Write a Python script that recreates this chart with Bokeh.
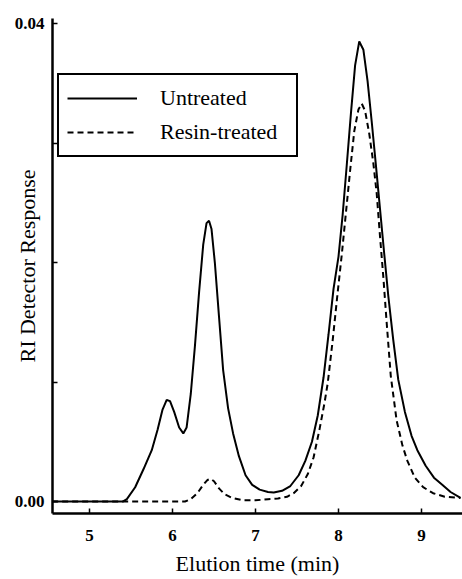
from bokeh.plotting import figure
from bokeh.models import FixedTicker, Range1d, Legend, LegendItem
from bokeh.embed import file_html
from bokeh.resources import INLINE

# ---- data ----
untreated_x = [4.55, 5.00, 5.40, 5.45, 5.55, 5.65, 5.75, 5.82, 5.88, 5.93, 5.97, 6.02, 6.08, 6.13,
               6.17, 6.22, 6.27, 6.32, 6.37, 6.41, 6.44, 6.47, 6.51, 6.56, 6.61, 6.67, 6.73, 6.80,
               6.88, 6.96, 7.05, 7.15, 7.22, 7.32, 7.42, 7.52, 7.60, 7.68, 7.75, 7.82, 7.88, 7.94,
               8.00, 8.05, 8.10, 8.15, 8.20, 8.25, 8.30, 8.35, 8.40, 8.45, 8.50, 8.55, 8.60, 8.66,
               8.72, 8.80, 8.88, 8.95, 9.05, 9.15, 9.25, 9.35, 9.47]
untreated_y = [0.0, 0.0, 0.0, 0.0002, 0.0012, 0.0027, 0.0043, 0.0060, 0.0077, 0.0085, 0.0084, 0.0075, 0.0062, 0.0057,
               0.0062, 0.0090, 0.0130, 0.0175, 0.0215, 0.0233, 0.0235, 0.0228, 0.0200, 0.0155, 0.0110, 0.0078, 0.0057, 0.0038,
               0.0022, 0.0014, 0.0010, 0.0008, 0.00075, 0.0009, 0.0013, 0.0022, 0.0034, 0.0050, 0.0072, 0.0104, 0.0140, 0.0178,
               0.0205, 0.0240, 0.0282, 0.0325, 0.0365, 0.0385, 0.0378, 0.0352, 0.0318, 0.0282, 0.0245, 0.0208, 0.0172, 0.0135,
               0.0102, 0.0075, 0.0055, 0.0043, 0.0030, 0.0020, 0.0014, 0.0008, 0.0003]

resin_x = [4.55, 6.15, 6.22, 6.30, 6.37, 6.42, 6.46, 6.50, 6.56, 6.63, 6.72, 6.85, 7.00, 7.15,
           7.27, 7.38, 7.46, 7.55, 7.63, 7.70, 7.77, 7.83, 7.87, 7.93, 7.99, 8.04, 8.09, 8.14,
           8.19, 8.24, 8.28, 8.32, 8.37, 8.42, 8.46, 8.50, 8.54, 8.58, 8.63, 8.70, 8.77, 8.83,
           8.92, 9.02, 9.14, 9.28, 9.47]
resin_y = [0.0, 0.0, 0.0002, 0.0007, 0.0014, 0.0018, 0.0019, 0.0017, 0.0011, 0.0006, 0.0003, 0.0001, 0.0001, 0.0002,
           0.00025, 0.0004, 0.0007, 0.0013, 0.0023, 0.0037, 0.0060, 0.0082, 0.0099, 0.0135, 0.0175, 0.0207, 0.0242, 0.0277,
           0.0310, 0.0328, 0.0333, 0.0327, 0.0308, 0.0283, 0.0258, 0.0222, 0.0188, 0.0150, 0.0105, 0.0068, 0.0047, 0.0034,
           0.0020, 0.0012, 0.0007, 0.0004, 0.0003]

x_ticks = [5, 6, 7, 8, 9]
y_major_ticks = [0.0, 0.04]
y_minor_ticks = [0.01, 0.02, 0.03]
y_tick_labels = {0.0: "0.00", 0.04: "0.04"}

SERIF = "Liberation Serif"

p = figure(width=462, height=579, output_backend="svg", toolbar_location=None,
           x_range=Range1d(4.554, 9.494), y_range=Range1d(-0.001, 0.04042),
           min_border_left=52, min_border_right=0, min_border_top=18, min_border_bottom=66)
p.outline_line_color = None
p.grid.visible = False
p.background_fill_color = "white"
p.border_fill_color = "white"

r1 = p.line(untreated_x, untreated_y, line_color="black", line_width=2)
r2 = p.line(resin_x, resin_y, line_color="black", line_width=2, line_dash="6 4")

# axes
for ax in (p.xaxis[0], p.yaxis[0]):
    ax.axis_line_width = 2.5
    ax.axis_line_color = "black"
    ax.major_tick_in = 5
    ax.major_tick_out = 0
    ax.minor_tick_in = 0
    ax.minor_tick_out = 0
    ax.major_tick_line_width = 1.5
    ax.major_label_text_font = SERIF
    ax.major_label_text_font_style = "bold"
    ax.major_label_text_color = "black"
    ax.major_label_text_font_size = "17px"

p.xaxis.ticker = FixedTicker(ticks=x_ticks)
p.xaxis.major_label_standoff = 16
p.xaxis.axis_label = "Elution time (min)"
p.xaxis.axis_label_text_font = SERIF
p.xaxis.axis_label_text_font_style = "normal"
p.xaxis.axis_label_text_font_size = "22px"
p.xaxis.axis_label_text_color = "black"
p.xaxis.axis_label_standoff = 7

p.yaxis.ticker = FixedTicker(ticks=y_major_ticks + y_minor_ticks)
p.yaxis.major_label_overrides = {0.01: "", 0.02: "", 0.03: "", **y_tick_labels}
p.yaxis.major_label_standoff = 8
p.yaxis.axis_label = "RI Detector Response"
p.yaxis.axis_label_text_font = SERIF
p.yaxis.axis_label_text_font_style = "normal"
p.yaxis.axis_label_text_font_size = "22px"
p.yaxis.axis_label_text_color = "black"
p.yaxis.axis_label_standoff = -28

legend = Legend(items=[LegendItem(label="Untreated", renderers=[r1]),
                       LegendItem(label="Resin-treated", renderers=[r2])],
                location=(5, 356), orientation="vertical")
legend.border_line_color = "black"
legend.border_line_alpha = 1
legend.border_line_width = 2
legend.background_fill_alpha = 1
legend.label_text_font = SERIF
legend.label_text_font_size = "22px"
legend.label_text_color = "black"
legend.glyph_width = 70
legend.glyph_height = 30
legend.label_height = 30
legend.label_standoff = 23
legend.label_width = 128
legend.spacing = 4
legend.padding = 8
legend.margin = 0
p.add_layout(legend)

open("out.html", "w").write(file_html(p, INLINE))
